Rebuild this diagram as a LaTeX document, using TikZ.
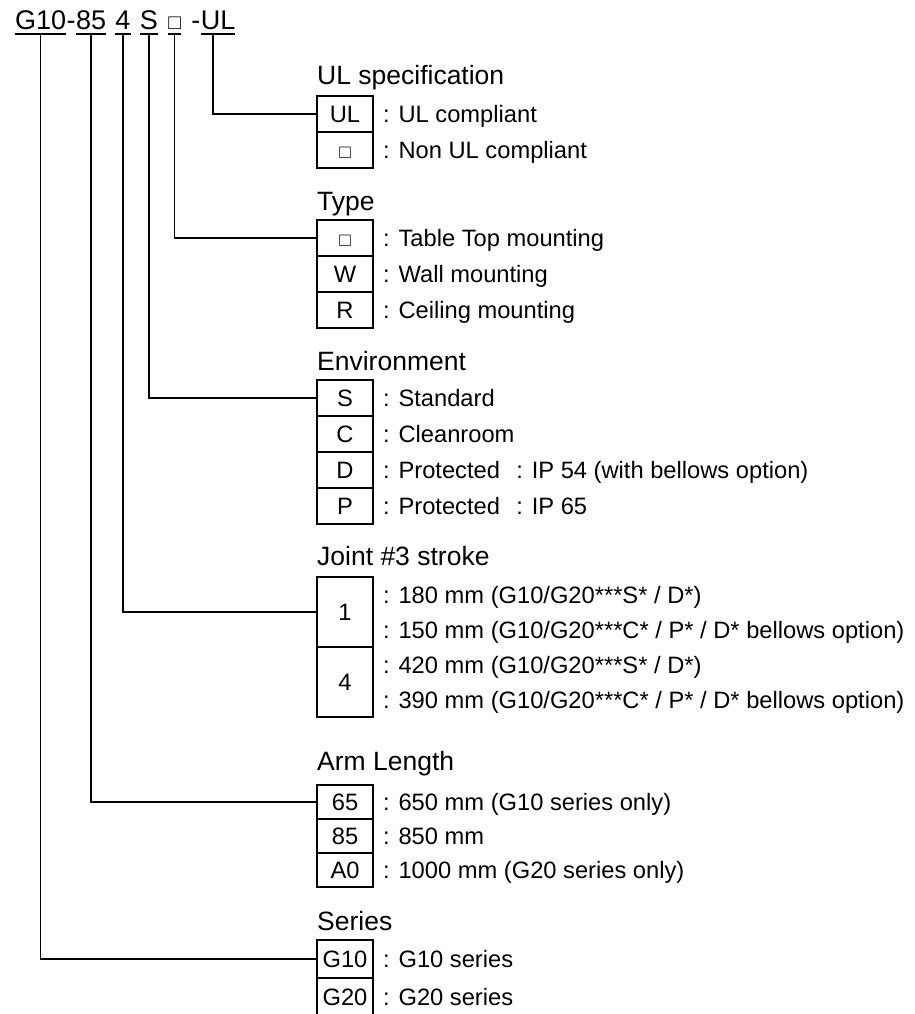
\documentclass[tikz,border=0pt]{standalone}
\usepackage{fontspec}
\setmainfont{Liberation Sans}
\usetikzlibrary{positioning}
\newcommand{\opensq}[1]{{\fontsize{#1}{#1}\selectfont □}}

\begin{document}
\begin{tikzpicture}[x=1pt, y=-1pt,
  font=\fontsize{23.7}{28}\selectfont,
  part/.style = {inner xsep=0pt, inner ysep=3.5pt, text depth=0pt,
    font=\fontsize{27}{32}\selectfont},
  uline/.style = {line width=1.8pt},
  codebox/.style = {draw, line width=1.6pt, outer sep=0pt,
    minimum width=56pt, minimum height=36pt, inner sep=0pt,
    text height=17pt, text depth=0pt},
  desc/.style = {anchor=west, inner sep=0pt, text height=17pt, text depth=0pt},
  grouptitle/.style = {anchor=base west, inner sep=0pt,
    font=\fontsize{26.5}{31}\selectfont},
  link/.style = {draw, line width=1.5pt}]
  \useasboundingbox (0,0) rectangle (915,1014);

  % model code
  \node[part, anchor=base west] (hg10) at (15,30) {G10};
  \node[part, base right=0pt of hg10] (hdasha) {-};
  \node[part, base right=0pt of hdasha] (h85) {85};
  \node[part, base right=9pt of h85] (h4) {4};
  \node[part, base right=9pt of h4] (hs) {S};
  \node[part, base right=10pt of hs] (hty) {\opensq{21}};
  \node[part, base right=10pt of hty] (hdashb) {-};
  \node[part, base right=0pt of hdashb] (hul) {UL};
  \foreach \n in {hg10,h85,h4,hs,hty,hul}
    \draw[uline] (\n.south west) -- (\n.south east);

  % UL specification
  \node[grouptitle] (tul) at (317,85) {UL specification};
  \node[codebox] (ul1) at (345,114) {UL};
  \node[codebox, below=0pt of ul1] (ul2) {\opensq{19}};
  \node[desc, right=10pt of ul1] (dul1) {: UL compliant};
  \node[desc, right=10pt of ul2] (dul2) {: Non UL compliant};

  % Type
  \node[grouptitle] (tty) at (317,210) {Type};
  \node[codebox] (ty1) at (345,238) {\opensq{19}};
  \node[codebox, below=0pt of ty1] (ty2) {W};
  \node[codebox, below=0pt of ty2] (ty3) {R};
  \node[desc, right=10pt of ty1] (dty1) {: Table Top mounting};
  \node[desc, right=10pt of ty2] (dty2) {: Wall mounting};
  \node[desc, right=10pt of ty3] (dty3) {: Ceiling mounting};

  % Environment
  \node[grouptitle] (tenv) at (317,370) {Environment};
  \node[codebox] (env1) at (345,398) {S};
  \node[codebox, below=0pt of env1] (env2) {C};
  \node[codebox, below=0pt of env2] (env3) {D};
  \node[codebox, below=0pt of env3] (env4) {P};
  \node[desc, right=10pt of env1] (denv1) {: Standard};
  \node[desc, right=10pt of env2] (denv2) {: Cleanroom};
  \node[desc, right=10pt of env3] (denv3) {: Protected};
  \node[desc, right=10pt of env4] (denv4) {: Protected};
  \node[desc, right=16pt of denv3] (ipa) {: IP 54 (with bellows option)};
  \node[desc, right=16pt of denv4] (ipb) {: IP 65};

  % Joint #3 stroke
  \node[grouptitle] (tjs) at (317,565) {Joint \#3 stroke};
  \node[codebox, minimum height=70pt] (js1) at (345,612) {1};
  \node[codebox, minimum height=70pt, below=0pt of js1] (js2) {4};
  \node[desc] (djs1) at ([xshift=10pt, yshift=17.5pt]js1.east) {: 180 mm (G10/G20***S* / D*)};
  \node[desc] (djs2) at ([xshift=10pt, yshift=-17.5pt]js1.east) {: 150 mm (G10/G20***C* / P* / D* bellows option)};
  \node[desc] (djs3) at ([xshift=10pt, yshift=17.5pt]js2.east) {: 420 mm (G10/G20***S* / D*)};
  \node[desc] (djs4) at ([xshift=10pt, yshift=-17.5pt]js2.east) {: 390 mm (G10/G20***C* / P* / D* bellows option)};

  % Arm Length
  \node[grouptitle] (tarm) at (317,770) {Arm Length};
  \node[codebox, minimum height=34pt] (arm1) at (345,802) {65};
  \node[codebox, minimum height=34pt, below=0pt of arm1] (arm2) {85};
  \node[codebox, minimum height=34pt, below=0pt of arm2] (arm3) {A0};
  \node[desc, right=10pt of arm1] (darm1) {: 650 mm (G10 series only)};
  \node[desc, right=10pt of arm2] (darm2) {: 850 mm};
  \node[desc, right=10pt of arm3] (darm3) {: 1000 mm (G20 series only)};

  % Series
  \node[grouptitle] (tser) at (317,930) {Series};
  \node[codebox, minimum height=38pt] (ser1) at (345,959) {G10};
  \node[codebox, minimum height=38pt, below=0pt of ser1] (ser2) {G20};
  \node[desc, right=10pt of ser1] (dser1) {: G10 series};
  \node[desc, right=10pt of ser2] (dser2) {: G20 series};

  % connectors
  \draw[link] ([xshift=-5pt]hul.south) |- (ul1.west);
  \draw[link] (hty.south) |- (ty1.west);
  \draw[link] (hs.south) |- (env1.west);
  \draw[link] (h4.south) |- (js1.west);
  \draw[link] (h85.south) |- (arm1.west);
  \draw[link] (hg10.south) |- (ser1.west);
\end{tikzpicture}
\end{document}
